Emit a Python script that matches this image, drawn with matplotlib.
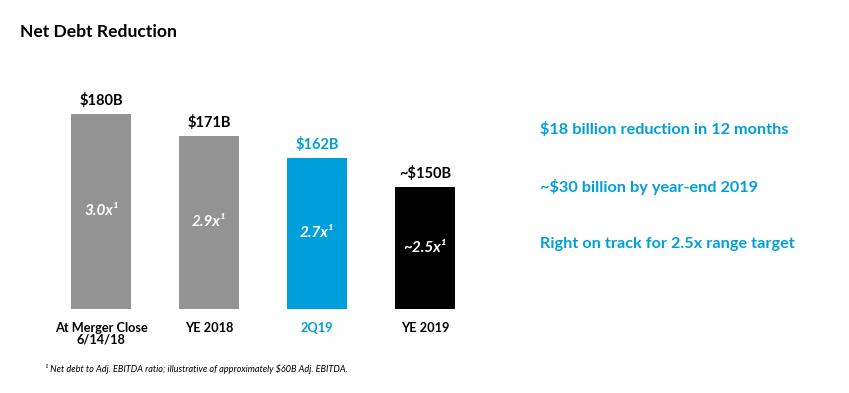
import matplotlib.pyplot as plt

categories = ['At Merger Close\n6/14/18', 'YE 2018', '2Q19', 'YE 2019']
debt_values = [180, 171, 162, 150]
value_labels = ['$180B', '$171B', '$162B', '~$150B']
ratio_labels = ['3.0x¹', '2.9x¹', '2.7x¹', '~2.5x¹']
highlights = ['$18 billion reduction in 12 months',
              '~$30 billion by year-end 2019',
              'Right on track for 2.5x range target']

gray = '#939393'
blue = '#009fdb'
bar_colors = [gray, gray, blue, 'black']
label_colors = ['black', 'black', blue, 'black']

plt.rcParams['font.family'] = ['Lato', 'DejaVu Sans']

fig = plt.figure(figsize=(8.49, 3.93), dpi=100)
ax = fig.add_axes([47 / 849, 84 / 393, 432 / 849, 229 / 393])

base = 100
x = range(len(categories))
ax.bar(x, debt_values, width=0.556, color=bar_colors)
ax.set_xlim(-0.5, 3.5)
ax.set_ylim(base, base + 229 / 2.44)
ax.axis('off')

for i, v in enumerate(debt_values):
    ax.annotate(value_labels[i], (i, v), xytext=(0, 4), textcoords='offset points',
                ha='center', va='bottom', fontsize=10.5, fontweight='bold',
                color=label_colors[i])
    ax.text(i, (base + v) / 2, ratio_labels[i], ha='center', va='center',
            fontsize=11, fontweight='bold', style='italic', color='white')
    ax.annotate(categories[i], (i, base), xytext=(0, -9), textcoords='offset points',
                ha='center', va='top', fontsize=9.2, fontweight='bold',
                color=label_colors[i], linespacing=1.05, annotation_clip=False)

fig.text(20 / 849, 1 - 32 / 393, 'Net Debt Reduction', fontsize=12.6,
         fontweight='bold', va='center', ha='left')

for j, t in enumerate(highlights):
    fig.text(540 / 849, 1 - (130 + 57 * j) / 393, t, fontsize=11.7,
             fontweight='bold', color=blue, va='center', ha='left')

fig.text(45 / 849, 1 - 369 / 393,
         '¹ Net debt to Adj. EBITDA ratio; illustrative of approximately $60B Adj. EBITDA.',
         fontsize=6.6, style='italic', va='center', ha='left')

fig.savefig('out.png', dpi=100)
